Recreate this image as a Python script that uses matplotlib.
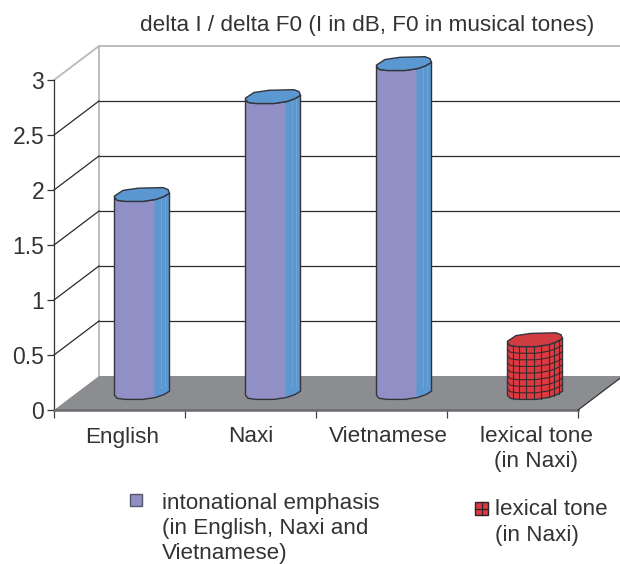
import matplotlib
matplotlib.use("Agg")
import matplotlib.pyplot as plt
from matplotlib.patches import Rectangle, Polygon

plt.rcParams['font.family'] = ['Liberation Sans', 'DejaVu Sans']

categories = ["English", "Naxi", "Vietnamese", "lexical tone\n(in Naxi)"]
values = [1.8, 2.69, 2.99, 0.48]
series_index = [0, 0, 0, 1]
y_ticks = [0, 0.5, 1, 1.5, 2, 2.5, 3]
y_labels = ["0", "0.5", "1", "1.5", "2", "2.5", "3"]
title = "delta I / delta F0 (I in dB, F0 in musical tones)"
legend_texts = ["intonational emphasis\n(in English, Naxi and\nVietnamese)", "lexical tone\n(in Naxi)"]

W, H = 620, 564
L, B, AW, AH = 54, 154, 524, 330
PX = AW / 4
PY = AH / 3
DEPTH_X, DEPTH_Y = 45, 34
TXT = "#333333"
GRID = "#2a2a2a"
WALL = "#b9b9b9"
PURPLE = "#9090c6"
BLUE = "#5b97d0"
OUT = "#33343c"
FLOOR = "#8b8d90"
RED = "#dc3a40"
REDTOP = "#cf3d42"

fig = plt.figure(figsize=(W / 100, H / 100), dpi=100)
ax = fig.add_axes([L / W, B / H, AW / W, AH / H])
ax.set_xlim(0, 4)
ax.set_ylim(0, 3)
ax.patch.set_visible(False)
for s in ("top", "right", "bottom"):
    ax.spines[s].set_visible(False)
ax.spines["left"].set_color("#333333")
ax.spines["left"].set_linewidth(0.9)

ax.set_yticks(y_ticks)
ax.set_yticklabels(y_labels, fontsize=16.5, color=TXT)
ax.tick_params(axis="y", length=5, width=0.9, color="#333333", pad=2)
ax.set_xticks(range(5))
ax.set_xticklabels([])
ax.tick_params(axis="x", length=6, width=0.9, color="#444444")

dx, dy = DEPTH_X / PX, DEPTH_Y / PY

# back wall, side wall and gridlines
ax.plot([dx, dx], [dy, 3 + dy], color=WALL, lw=1.3, clip_on=False, zorder=1)
for v in y_ticks[1:]:
    col = WALL if v == 3 else GRID
    lw = 1.3 if v == 3 else 0.9
    ax.plot([dx, 4 + dx], [v + dy, v + dy], color=col, lw=lw, clip_on=False, zorder=1)
    ax.plot([0, dx], [v, v + dy], color=col, lw=lw, clip_on=False, zorder=1)

# floor
ax.add_patch(Polygon([(0, 0), (4, 0), (4 + dx, dy), (dx, dy)], closed=True,
                     facecolor=FLOOR, edgecolor="none", clip_on=False, zorder=2))
ax.plot([0, 4], [0, 0], color="#6a6b6e", lw=1.8, clip_on=False, zorder=3)
ax.plot([4, 4 + dx], [0, dy], color="#333333", lw=0.9, clip_on=False, zorder=3)

# outline of a lumpy cylinder, in pixels about its axis
FRONT = [(-27.5, -2.2), (-25, -5.3), (-17, -6.4), (1, -6.4), (14, -4.4), (22, -1.5), (27.5, 1.8)]
BACK = [(27.5, 1.8), (26, 5.5), (21, 7.4), (-4, 6.8), (-19, 4.6), (-27.5, -1.0)]
SPLIT = 12.5


def cyl_x(i, off):
    return i + 0.5 + (DEPTH_X / 2 + off) / PX


def cyl_y(level, off):
    return level + (DEPTH_Y / 2 + off) / PY


def curve(i, level, pts):
    return [(cyl_x(i, a), cyl_y(level, b)) for a, b in pts]


def front_y(a):
    for (a0, b0), (a1, b1) in zip(FRONT[:-1], FRONT[1:]):
        if a0 <= a <= a1:
            return b0 + (b1 - b0) * (a - a0) / (a1 - a0)
    return 0


for i, (v, s) in enumerate(zip(values, series_index)):
    body = curve(i, v, FRONT) + curve(i, 0, FRONT[::-1])
    if s == 0:
        ax.add_patch(Polygon(body, closed=True, facecolor=PURPLE, edgecolor="none",
                             clip_on=False, zorder=4))
        right = [(a, b) for a, b in FRONT if a >= SPLIT]
        right = [(SPLIT, front_y(SPLIT))] + right
        ax.add_patch(Polygon(curve(i, v, right) + curve(i, 0, right[::-1]), closed=True,
                             facecolor=BLUE, edgecolor="none", clip_on=False, zorder=5))
        for off in (18.5, 22.5):
            ax.plot([cyl_x(i, off)] * 2, [cyl_y(v, front_y(off)), cyl_y(0, front_y(off) + 8)],
                    color="#7ba7da", lw=0.5, clip_on=False, zorder=6)
        top_col = BLUE
    else:
        ax.add_patch(Polygon(body, closed=True, facecolor=RED, edgecolor="none",
                             clip_on=False, zorder=4))
        for f in [k / 8 for k in range(1, 8)]:
            pts = curve(i, v * f, FRONT)
            ax.plot([p[0] for p in pts], [p[1] for p in pts], color="#3a2a2c", lw=0.8,
                    clip_on=False, zorder=6)
        for off in (-22.5, -16, -9, -1, 5.5, 14, 19, 23.5):
            ax.plot([cyl_x(i, off)] * 2, [cyl_y(v, front_y(off)), cyl_y(0, front_y(off))],
                    color="#3a2a2c", lw=0.8, clip_on=False, zorder=6)
        top_col = REDTOP
    ax.add_patch(Polygon(body, closed=True, facecolor="none", edgecolor=OUT, lw=1.0,
                         clip_on=False, zorder=7))
    ax.add_patch(Polygon(curve(i, v, FRONT + BACK[1:]), closed=True, facecolor=top_col,
                         edgecolor=OUT, lw=1.0, clip_on=False, zorder=8))

# category labels
label_shift = [2.5, 0.5, 6.5, 23.5]
for i, (c, sh) in enumerate(zip(categories, label_shift)):
    ax.text(i + 0.5 + sh / PX, -16.5 / PY, c, ha="center", va="top", fontsize=16.2,
            color=TXT, linespacing=1.2, clip_on=False)

fig.text(367 / W, 1 - 26 / H, title, ha="center", va="center", fontsize=16.2, color=TXT)

# legend
fig.add_artist(Rectangle((130 / W, 1 - 506 / H), 12 / W, 12 / H, transform=fig.transFigure,
                         facecolor=PURPLE, edgecolor="#55556a", lw=1.0))
fig.text(162 / W, 1 - 493 / H, legend_texts[0], ha="left", va="top", fontsize=16.1,
         color=TXT, linespacing=1.25)
fig.add_artist(Rectangle((475 / W, 1 - 515 / H), 13 / W, 13 / H, transform=fig.transFigure,
                         facecolor=RED, edgecolor="#2c2426", lw=1.0))
fig.add_artist(plt.Line2D([481.5 / W] * 2, [1 - 515 / H, 1 - 502 / H], transform=fig.transFigure,
                          color="#2c2426", lw=0.9))
fig.add_artist(plt.Line2D([475 / W, 488 / W], [1 - 508.5 / H] * 2, transform=fig.transFigure,
                          color="#2c2426", lw=0.9))
fig.text(495 / W, 1 - 499 / H, legend_texts[1], ha="left", va="top", fontsize=16.1,
         color=TXT, linespacing=1.3)

fig.savefig("out.png", dpi=100)
